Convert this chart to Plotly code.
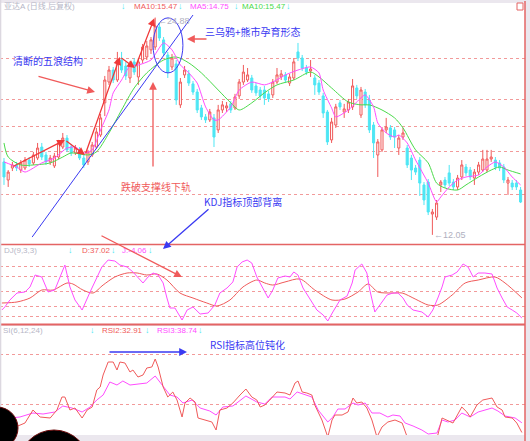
import plotly.graph_objects as go

W, H = 530, 441

# ---- daily candles (price in yuan) ----
open_ = [16.36, 15.29, 16.00, 16.18, 15.88, 16.00, 16.47, 16.30, 16.59, 17.24,
         16.77, 16.36, 16.12, 16.65, 17.24, 17.77, 17.24, 16.89, 17.07, 16.59,
         16.36, 16.77, 17.24, 17.95, 19.85, 21.08, 21.79, 21.20, 22.38, 22.03,
         21.32, 22.27, 21.38, 22.38, 22.56, 22.98, 23.15, 24.33, 23.57, 22.68,
         21.97, 22.15, 19.73, 21.50, 21.56, 20.97, 20.49, 19.55, 19.02, 18.84,
         18.96, 18.25, 19.43, 19.55, 19.79, 19.55, 20.26, 21.08, 21.20, 21.32,
         20.85, 20.61, 20.61, 20.38, 20.32, 21.08, 21.38, 21.50, 21.02, 21.32,
         22.86, 22.50, 21.91, 21.73, 21.32, 21.02, 20.26, 19.31, 17.66, 18.54,
         19.85, 19.31, 19.43, 19.61, 20.73, 19.13, 20.49, 20.02, 18.54, 16.77,
         17.07, 18.25, 18.37, 18.25, 17.18, 17.83, 17.18, 16.59, 16.00, 16.47,
         15.00, 15.17, 13.28, 13.10, 15.00, 15.29, 15.71, 15.17, 14.88, 15.47,
         16.06, 15.88, 15.41, 15.76, 15.88, 15.88, 16.53, 16.47, 16.30, 16.06,
         15.11, 15.11, 15.11, 14.70]
close = [15.47, 15.76, 16.18, 16.00, 16.30, 16.47, 16.24, 16.77, 17.18, 16.65,
         16.36, 16.59, 16.71, 17.48, 17.77, 17.07, 16.89, 17.18, 16.59, 16.18,
         16.95, 17.36, 18.13, 18.96, 21.20, 21.79, 21.20, 22.38, 21.79, 21.44,
         22.15, 21.67, 22.27, 23.15, 23.21, 23.57, 24.39, 23.68, 22.80, 21.67,
         22.50, 20.02, 21.08, 21.79, 21.02, 20.49, 19.43, 19.02, 18.84, 19.31,
         17.83, 19.43, 19.73, 19.67, 19.43, 20.20, 21.08, 21.67, 21.50, 20.61,
         20.44, 20.26, 20.14, 20.08, 21.08, 21.50, 21.56, 21.20, 21.38, 22.27,
         22.50, 21.91, 21.67, 21.85, 20.91, 20.49, 19.25, 17.54, 18.72, 19.61,
         19.61, 19.49, 19.90, 20.85, 20.26, 20.61, 19.73, 18.25, 17.48, 17.54,
         18.25, 18.42, 17.83, 17.83, 17.77, 18.07, 16.18, 15.88, 15.76, 15.11,
         14.11, 13.40, 13.40, 13.93, 15.17, 15.00, 15.11, 14.88, 15.41, 16.18,
         15.71, 15.47, 15.76, 16.18, 16.53, 16.53, 16.65, 16.06, 16.00, 15.29,
         15.29, 14.88, 14.88, 13.99]
high = [16.59, 15.88, 16.36, 16.36, 16.47, 16.65, 16.65, 16.95, 17.48, 17.48,
        16.95, 16.77, 16.89, 17.66, 18.07, 17.95, 17.42, 17.36, 17.24, 16.77,
        17.07, 17.54, 18.37, 19.19, 21.44, 22.03, 21.97, 22.86, 22.86, 22.27,
        22.32, 22.50, 22.50, 23.33, 23.51, 23.74, 24.89, 24.57, 23.74, 22.86,
        22.74, 22.38, 21.32, 22.03, 21.79, 21.14, 20.67, 19.73, 19.19, 19.49,
        19.19, 19.73, 19.96, 19.90, 19.96, 20.38, 21.26, 22.09, 21.91, 21.50,
        21.02, 20.79, 20.85, 20.55, 21.26, 21.91, 21.79, 21.67, 21.56, 22.50,
        23.39, 22.68, 22.09, 22.38, 21.50, 21.20, 20.44, 19.43, 18.96, 19.79,
        20.02, 19.79, 20.08, 21.26, 20.91, 20.79, 20.67, 20.32, 18.72, 17.71,
        18.42, 18.96, 18.54, 18.42, 17.95, 18.37, 17.36, 16.77, 16.18, 16.65,
        15.17, 15.35, 13.58, 14.11, 15.29, 15.47, 16.18, 15.35, 15.59, 16.47,
        16.24, 16.06, 15.94, 16.36, 17.07, 17.07, 17.07, 16.65, 16.47, 16.24,
        15.47, 15.29, 15.29, 14.88]
low = [15.00, 14.88, 15.82, 15.82, 15.71, 15.88, 16.06, 16.18, 16.47, 16.47,
       16.18, 16.18, 16.00, 16.53, 17.12, 16.95, 16.71, 16.77, 16.47, 16.00,
       16.18, 16.65, 17.12, 17.83, 19.07, 20.91, 21.02, 21.08, 21.62, 21.20,
       21.02, 21.50, 20.91, 22.21, 22.38, 22.74, 22.98, 23.51, 22.62, 21.32,
       21.79, 19.73, 19.55, 21.32, 20.85, 20.32, 19.25, 18.84, 18.66, 18.72,
       17.24, 18.07, 19.25, 19.31, 19.25, 19.43, 20.08, 20.91, 21.08, 20.44,
       20.26, 20.08, 19.73, 19.90, 20.14, 20.97, 21.20, 21.02, 20.85, 21.20,
       22.32, 21.73, 21.50, 21.38, 20.32, 20.32, 18.96, 17.36, 17.48, 18.37,
       19.43, 18.96, 19.25, 19.43, 20.08, 18.96, 19.55, 18.07, 16.59, 15.47,
       16.95, 18.07, 17.66, 17.18, 16.77, 17.66, 16.00, 15.29, 15.59, 14.35,
       13.81, 13.22, 12.05, 12.93, 14.58, 14.82, 14.94, 14.70, 14.70, 15.29,
       15.53, 15.29, 15.00, 15.59, 15.76, 15.76, 16.36, 15.88, 15.82, 15.11,
       14.41, 14.70, 14.70, 13.93]
days = list(range(len(close)))

# moving averages (magenta = MA5, green = slow MA)
ma5_day = [0, 3, 5, 9, 12, 15, 17, 19, 21, 23, 25, 26, 28, 30, 32, 35, 38, 40, 42, 44,
           46, 48, 50, 51, 54, 56, 59, 62, 64, 67, 70, 73, 75, 76, 78, 79, 82, 84, 86, 88,
           89, 91, 93, 94, 96, 98, 101, 103, 104, 106, 108, 110, 113, 115, 117, 119, 121, 123]
ma5_val = [16.36, 16.06, 15.76, 16.30, 16.59, 17.18, 17.24, 16.89, 17.07, 18.25,
           19.43, 20.44, 21.20, 22.03, 22.09, 22.38, 23.39, 22.98, 22.09, 21.62,
           21.02, 19.61, 18.84, 18.84, 19.61, 20.61, 21.08, 20.91, 21.08, 21.50,
           21.79, 21.97, 21.62, 20.61, 19.55, 19.02, 19.43, 19.90, 20.32, 19.61,
           18.66, 18.07, 17.83, 17.95, 17.48, 16.47, 15.11, 13.99, 14.29, 14.88,
           15.29, 15.47, 15.59, 16.06, 16.36, 16.06, 15.47, 15.00]
mag_day = [0, 1, 4, 7, 11, 14, 16, 20, 22, 25, 28, 31, 34, 38, 41, 44, 47, 51, 54, 56,
           59, 62, 65, 69, 73, 75, 78, 82, 85, 87, 90, 93, 95, 98, 101, 103, 105, 108, 110, 113,
           116, 118, 120, 123]
mag_val = [17.48, 16.65, 16.18, 16.18, 16.30, 16.65, 16.89, 16.77, 16.95, 18.07,
           19.43, 20.73, 21.62, 22.38, 22.56, 22.21, 21.62, 20.61, 19.85, 19.43,
           19.85, 20.44, 20.91, 21.20, 21.67, 21.38, 20.73, 19.90, 19.73, 19.73,
           19.43, 18.96, 18.37, 17.07, 16.30, 15.11, 14.82, 14.70, 15.00, 15.47,
           15.88, 16.06, 15.88, 15.65]

# KDJ
j_day = [-0.5, 0.2, 1.4, 3.1, 5.0, 6.2, 7.4, 9.0, 10.5, 12.1, 14.5, 15.7, 16.9, 18.6, 20.5,
         22.1, 23.3, 24.8, 26.4, 27.6, 29.3, 30.7, 31.9, 33.1, 34.3, 35.5, 36.7, 37.9, 38.8,
         39.5, 40.7, 42.4, 43.6, 45.0, 46.7, 48.6, 50.2, 51.4, 53.1, 54.5, 55.5, 56.7, 57.9,
         59.0, 60.2, 61.4, 62.9, 64.0, 65.2, 66.9, 68.1, 69.0, 70.0, 71.2, 72.9, 74.5, 76.0,
         77.1, 78.3, 80.0, 81.7, 82.9, 83.6, 85.2, 86.4, 87.1, 88.3, 89.5, 91.2, 92.6, 93.8,
         95.0, 96.0, 97.4, 99.5, 101.0, 102.1, 103.3, 104.3, 105.0, 106.7, 107.9, 109.3, 110.5,
         111.7, 112.9, 114.5, 116.2, 117.4, 118.6, 119.8, 121.0, 122.1, 123.3]
j_val = [12.2, 18.4, 32.6, 46.9, 49.0, 59.2, 83.6, 79.6, 49.0, 53.0, 104.0, 59.2, 32.6, 12.2,
         49.0, 79.6, 100.0, 114.2, 112.2, 104.0, 100.0, 89.8, 79.6, 67.3, 79.6, 87.7, 83.6,
         67.3, 36.7, 16.3, 16.3, -8.2, 12.2, 18.4, 4.1, 6.1, 22.4, 46.9, 57.1, 69.4, 100.0,
         110.2, 114.2, 108.1, 79.6, 59.2, 36.7, 53.0, 77.5, 81.6, 79.6, 89.8, 83.6, 57.1, 32.6,
         12.2, 2.0, -10.2, 8.2, 32.6, 40.8, 67.3, 93.8, 106.1, 87.7, 53.0, 8.2, 22.4, 42.8,
         46.9, 46.9, 36.7, 22.4, 12.2, 8.2, -2.0, 12.2, 36.7, 59.2, 79.6, 83.6, 89.8, 106.1,
         100.0, 79.6, 87.7, 87.7, 85.7, 57.1, 36.7, 18.4, 12.2, 6.1, -4.06]
d_day = [-0.5, 3.1, 6.2, 9.0, 11.7, 15.0, 16.4, 18.8, 21.2, 23.6, 26.4, 29.3, 31.7, 34.0,
         36.4, 38.8, 41.9, 45.0, 48.3, 50.7, 53.8, 56.9, 60.2, 62.1, 64.0, 66.9, 70.5, 74.0,
         78.1, 81.2, 84.3, 86.7, 89.0, 92.4, 94.8, 97.9, 101.0, 103.3, 106.7, 109.8, 112.9,
         116.9, 119.3, 123.3]
d_val = [26.5, 28.6, 36.7, 53.0, 53.0, 67.3, 65.3, 53.0, 46.9, 63.2, 79.6, 87.7, 87.7, 83.6,
         85.7, 73.4, 46.9, 36.7, 26.5, 20.4, 32.6, 59.2, 73.4, 67.3, 63.2, 69.4, 75.5, 53.0,
         32.6, 34.7, 49.0, 65.3, 49.0, 46.9, 46.9, 34.7, 22.4, 22.4, 42.8, 67.3, 73.4, 79.6,
         67.3, 37.02]

# RSI
rsi2_day = [1.4, 3.3, 5.0, 6.9, 8.6, 11.0, 12.6, 13.8, 14.5, 15.7, 16.9, 18.6, 19.8, 21.0,
            22.1, 22.9, 23.6, 24.8, 26.0, 26.9, 27.6, 28.8, 30.0, 30.7, 31.9, 33.1, 34.0, 35.2,
            36.0, 36.7, 37.9, 39.0, 40.2, 41.2, 42.4, 43.1, 44.3, 45.5, 46.2, 47.9, 49.5, 50.5,
            51.4, 53.1, 54.5, 56.2, 57.6, 59.0, 60.2, 61.0, 62.1, 63.3, 65.0, 66.9, 68.1, 69.3,
            70.0, 71.0, 72.1, 73.3, 74.0, 75.7, 77.1, 78.1, 78.8, 80.5, 81.9, 83.1, 84.0, 85.2,
            86.4, 87.6, 88.8, 90.0, 91.4, 93.1, 94.8, 96.0, 97.9, 100.2, 102.1, 103.3, 104.3,
            105.5, 106.9, 109.0, 110.2, 111.0, 112.6, 114.0, 116.2, 117.4, 118.6, 119.3, 121.0,
            122.1, 123.3]
rsi2_val = [39.2, 36.8, 38.6, 46.4, 42.2, 41.6, 46.4, 54.2, 54.2, 46.4, 47.6, 41.6, 46.4,
            48.2, 58.4, 60.2, 67.4, 75.2, 75.2, 70.4, 75.2, 74.6, 69.2, 70.4, 66.2, 67.4, 71.6,
            72.2, 77.0, 72.2, 60.2, 54.2, 57.2, 52.4, 42.2, 50.6, 53.6, 51.2, 41.6, 40.4, 39.2,
            34.4, 46.4, 47.6, 50.6, 55.4, 59.0, 54.2, 52.4, 48.2, 49.4, 52.4, 57.2, 56.6, 55.4,
            62.6, 63.8, 57.2, 56.6, 55.4, 49.4, 40.4, 30.2, 40.4, 43.4, 43.4, 45.2, 53.6, 50.6,
            51.2, 47.6, 40.4, 30.2, 36.2, 39.2, 40.4, 38.6, 30.2, 25.4, 24.2, 28.4, 31.4, 41.6,
            40.4, 38.6, 48.2, 45.2, 42.2, 49.4, 52.4, 53.6, 48.2, 46.4, 42.2, 41.6, 38.6, 32.91]
rsi3_day = [1.4, 3.8, 6.9, 9.3, 12.1, 14.0, 16.2, 18.6, 20.5, 22.1, 23.6, 25.2, 26.9, 28.3,
            30.0, 31.9, 34.0, 36.0, 37.9, 39.5, 41.2, 42.6, 44.8, 46.7, 49.0, 50.5, 52.1, 54.5,
            57.6, 60.2, 62.1, 63.8, 66.9, 68.1, 69.8, 71.7, 73.3, 74.8, 77.1, 78.3, 79.5, 81.2,
            83.1, 84.3, 86.0, 87.6, 89.5, 91.4, 92.6, 94.3, 95.5, 97.4, 99.5, 101.0, 103.1,
            104.3, 105.7, 107.4, 109.0, 111.0, 112.9, 116.2, 117.6, 119.3, 121.7, 123.3]
rsi3_val = [41.6, 42.2, 44.6, 44.0, 45.2, 48.8, 47.6, 45.2, 48.2, 52.4, 55.4, 63.2, 61.4,
            63.8, 61.4, 62.0, 62.6, 66.8, 60.2, 55.4, 54.2, 50.6, 52.4, 47.6, 45.8, 43.4, 48.2,
            48.8, 54.8, 51.2, 50.0, 54.2, 54.2, 53.0, 57.2, 55.4, 54.2, 46.4, 39.2, 42.2, 47.0,
            47.0, 50.6, 49.4, 50.6, 44.6, 44.6, 42.2, 43.4, 42.8, 38.6, 36.8, 34.4, 32.0, 32.6,
            40.4, 39.2, 40.4, 44.6, 42.2, 45.2, 47.6, 45.8, 42.8, 41.6, 38.74]

main_grid = [22.50, 20.02, 18.48, 16.95, 14.46]
kdj_grid = [100, 80, 50, 20, 0]
rsi_grid = [80, 50]

# hand-drawn wave turning points (day, price)
wave_day = [1.9, 14.5, 19.3, 27.6, 31.2, 35.8]
wave_price = [16.06, 17.66, 16.77, 22.56, 21.91, 24.85]

# ---- colours ----
RED = "#f05a5a"
CYAN = "#4ee6f4"
MAGENTA = "#ff4cff"
GREEN = "#4ada4a"
BLUE = "#3a3af2"
GRAY_TXT = "#b6b6c6"
FRAME = "#ebe7ee"
GRID = "#f29a9a"
CJK = "Noto Sans CJK SC"
SANS = "Liberation Sans, Arial, Noto Sans CJK SC"


def px(x):
	return x / W


def py(y):
	return 1 - y / H


fig = go.Figure()

fig.add_trace(go.Candlestick(
	x=days, open=open_, high=high, low=low, close=close,
	increasing=dict(line=dict(color=RED, width=1), fillcolor="white"),
	decreasing=dict(line=dict(color=CYAN, width=1), fillcolor=CYAN),
	whiskerwidth=0, showlegend=False, xaxis="x", yaxis="y",
))
fig.add_trace(go.Scatter(x=mag_day, y=mag_val, mode="lines", showlegend=False,
	line=dict(color=GREEN, width=1, shape="spline", smoothing=0.8), xaxis="x", yaxis="y"))
fig.add_trace(go.Scatter(x=ma5_day, y=ma5_val, mode="lines", showlegend=False,
	line=dict(color=MAGENTA, width=1, shape="spline", smoothing=0.6), xaxis="x", yaxis="y"))

fig.add_trace(go.Scatter(x=d_day, y=d_val, mode="lines", showlegend=False,
	line=dict(color=RED, width=1, shape="spline", smoothing=0.8), xaxis="x2", yaxis="y2"))
fig.add_trace(go.Scatter(x=j_day, y=j_val, mode="lines", showlegend=False,
	line=dict(color=MAGENTA, width=1), xaxis="x2", yaxis="y2"))

fig.add_trace(go.Scatter(x=rsi3_day, y=rsi3_val, mode="lines", showlegend=False,
	line=dict(color=MAGENTA, width=1), xaxis="x3", yaxis="y3"))
fig.add_trace(go.Scatter(x=rsi2_day, y=rsi2_val, mode="lines", showlegend=False,
	line=dict(color=RED, width=1), xaxis="x3", yaxis="y3"))

xspan = [-0.95, 124.05]
xdom = [0, px(525)]
xcommon = dict(domain=xdom, range=xspan, showgrid=False, zeroline=False,
	showticklabels=False, ticks="", showline=False, fixedrange=True)
ycommon = dict(showgrid=True, gridcolor=GRID, griddash="dot", gridwidth=1,
	zeroline=False, showticklabels=False, ticks="", showline=False)

fig.update_layout(
	width=W, height=H,
	margin=dict(l=0, r=0, t=0, b=0),
	paper_bgcolor=FRAME, plot_bgcolor="white",
	showlegend=False,
	xaxis=dict(**xcommon, anchor="y", rangeslider=dict(visible=False)),
	xaxis2=dict(**xcommon, anchor="y2"),
	xaxis3=dict(**xcommon, anchor="y3"),
	yaxis=dict(**ycommon, domain=[py(244), py(3)], range=[11.51, 25.75], tickvals=main_grid),
	yaxis2=dict(**ycommon, domain=[py(324), py(245)], range=[-16.32, 144.84], tickvals=kdj_grid),
	yaxis3=dict(**ycommon, domain=[py(435), py(326)], range=[31.4, 96.8], tickvals=rsi_grid),
)

# ---- frame, trend line, ellipse ----
shapes = [
	dict(type="line", xref="x", yref="y", x0=6.7, y0=11.92, x1=45, y1=25.04,
		line=dict(color=BLUE, width=1)),
	dict(type="circle", xref="x", yref="y", x0=35.5, x1=42.6, y0=21.62, y1=24.87,
		line=dict(color=BLUE, width=1)),
	dict(type="line", xref="paper", yref="paper", x0=px(0), x1=px(525), y0=py(244.5), y1=py(244.5),
		line=dict(color="#e46464", width=1.5)),
	dict(type="line", xref="paper", yref="paper", x0=px(0), x1=px(525), y0=py(324.5), y1=py(324.5),
		line=dict(color="#e46464", width=2)),
	dict(type="line", xref="paper", yref="paper", x0=px(525), x1=px(525), y0=0, y1=py(1),
		line=dict(color="#e46464", width=1.5)),
	dict(type="rect", xref="paper", yref="paper", x0=px(517), x1=px(523), y0=py(10), y1=py(3),
		line=dict(color="#e46464", width=1)),
	dict(type="rect", xref="paper", yref="paper", x0=0, x1=px(1.3), y0=0, y1=1,
		line=dict(width=0), fillcolor="#dcd8e0"),
	dict(type="circle", xref="paper", yref="paper", x0=px(-24), x1=px(18), y0=py(449), y1=py(407),
		line=dict(color="#6a0a0a", width=1), fillcolor="black"),
	dict(type="circle", xref="paper", yref="paper", x0=px(19), x1=px(89), y0=py(500), y1=py(430),
		line=dict(color="#6a0a0a", width=1), fillcolor="black"),
]
fig.update_layout(shapes=shapes)

ann = []


def label(text, x, y, color, size=8, anchor="left", family=SANS):
	ann.append(dict(text=text, x=px(x), y=py(y), xref="paper", yref="paper",
		xanchor=anchor, yanchor="middle", showarrow=False,
		font=dict(color=color, size=size, family=family)))


def arrow(hx, hy, tx, ty, color):
	# head / tail given in screen pixels
	ann.append(dict(text="", x=px(hx), y=py(hy), xref="paper", yref="paper",
		ax=tx - hx, ay=ty - hy, showarrow=True, arrowhead=2, arrowsize=1.2,
		arrowwidth=1.3, arrowcolor=color, standoff=0))


# header rows
label("亚达A (日线,后复权)", 2, 6, GRAY_TXT)
label("MA10:15.47", 132, 6, RED)
label("MA5:14.75", 188, 6, MAGENTA)
label("MA10:15.47", 240, 6, GREEN)
for cx in [123, 180, 236, 288]:
	label("↓", cx, 6, CYAN, size=9, anchor="center")

label("DJ(9,3,3)", 2, 250, GRAY_TXT)
label("D:37.02", 80, 250, RED)
label("J:-4.06", 120, 250, MAGENTA)
for cx in [70, 113, 150]:
	label("↓", cx, 250, CYAN, size=9, anchor="center")

label("SI(6,12,24)", 1, 330, GRAY_TXT)
label("RSI2:32.91", 100, 330, RED)
label("RSI3:38.74", 155, 330, MAGENTA)
for cx in [92, 147, 200]:
	label("↓", cx, 330, CYAN, size=9, anchor="center")

# extreme price marks
label("←24.88", 156, 21, "#b0b0c0", size=9)
label("←12.05", 432, 235, "#b0b0c0", size=9)

# commentary
label("清断的五浪结构", 48, 61, BLUE, size=10, anchor="center", family=CJK)
label("三乌鸦+熊市孕育形态", 203, 31, BLUE, size=10, family=CJK)
label("跌破支撑线下轨", 156, 187, RED, size=10, anchor="center", family=CJK)
label("KDJ指标顶部背离", 202, 201, BLUE, size=10, family=CJK)
label("RSI指标高位钝化", 208, 344, BLUE, size=10, family=CJK)

arrow(95, 92, 37, 76, RED)
arrow(187, 39, 208, 39, RED)
arrow(153, 82, 153, 168, RED)
arrow(163, 249, 210, 208, BLUE)
arrow(182, 277, 100, 235, RED)
arrow(187, 352, 108, 352, BLUE)

# five-wave zigzag in price space
for i in range(1, len(wave_day)):
	ann.append(dict(text="", x=wave_day[i], y=wave_price[i], xref="x", yref="y",
		ax=wave_day[i - 1], ay=wave_price[i - 1], axref="x", ayref="y",
		showarrow=True, arrowhead=2, arrowsize=1.2, arrowwidth=1.3,
		arrowcolor="#f03838", standoff=0))

fig.update_layout(annotations=ann)

# page body has a default 8px margin; drop it so the figure sits at the window corner
fig.write_html(
	"out.html",
	config={"displayModeBar": False},
	post_script="document.body.style.margin='0px';",
)
